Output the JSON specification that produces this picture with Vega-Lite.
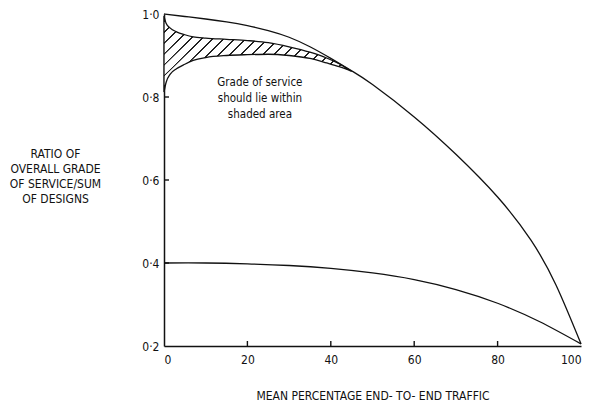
{
  "$schema": "https://vega.github.io/schema/vega-lite/v6.json",
  "width": 417,
  "height": 332,
  "autosize": {"type": "none"},
  "padding": {"left": 164, "top": 14, "right": 20, "bottom": 60},
  "background": "white",
  "config": {
    "view": {"stroke": null},
    "font": "Liberation Sans Narrow, DejaVu Sans Condensed, sans-serif",
    "axis": {
      "grid": false,
      "domainColor": "#111",
      "domainWidth": 1.5,
      "labelColor": "#111",
      "titleColor": "#111",
      "labelFont": "Liberation Sans Narrow, DejaVu Sans Condensed, sans-serif",
      "titleFont": "Liberation Sans Narrow, DejaVu Sans Condensed, sans-serif",
      "labelFontSize": 12,
      "titleFontSize": 12,
      "titleFontWeight": "normal"
    }
  },
  "datasets": {
    "outer": [
      {"x": 0, "y": 1.0}, {"x": 5, "y": 0.994}, {"x": 10, "y": 0.988}, {"x": 15, "y": 0.981},
      {"x": 20, "y": 0.972}, {"x": 25, "y": 0.96}, {"x": 30, "y": 0.944}, {"x": 35, "y": 0.921},
      {"x": 40, "y": 0.893}, {"x": 45, "y": 0.863}, {"x": 50, "y": 0.83}, {"x": 60, "y": 0.752},
      {"x": 70, "y": 0.662}, {"x": 80, "y": 0.559}, {"x": 88, "y": 0.455}, {"x": 94, "y": 0.347},
      {"x": 100, "y": 0.205}
    ],
    "lower": [
      {"x": 0, "y": 0.4}, {"x": 10, "y": 0.4}, {"x": 20, "y": 0.398}, {"x": 30, "y": 0.394},
      {"x": 40, "y": 0.387}, {"x": 50, "y": 0.376}, {"x": 60, "y": 0.36}, {"x": 70, "y": 0.336},
      {"x": 80, "y": 0.303}, {"x": 90, "y": 0.259}, {"x": 100, "y": 0.205}
    ],
    "shaded": [
      {"x": 0, "hi": 0.995, "lo": 0.812}, {"x": 0.5, "hi": 0.978, "lo": 0.835},
      {"x": 1.5, "hi": 0.966, "lo": 0.855}, {"x": 3, "hi": 0.957, "lo": 0.868},
      {"x": 5, "hi": 0.95, "lo": 0.879}, {"x": 7, "hi": 0.945, "lo": 0.888},
      {"x": 10, "hi": 0.942, "lo": 0.895}, {"x": 15, "hi": 0.939, "lo": 0.9},
      {"x": 20, "hi": 0.936, "lo": 0.902}, {"x": 25, "hi": 0.931, "lo": 0.903},
      {"x": 30, "hi": 0.921, "lo": 0.9}, {"x": 35, "hi": 0.908, "lo": 0.893},
      {"x": 39, "hi": 0.894, "lo": 0.882}, {"x": 42, "hi": 0.88, "lo": 0.873},
      {"x": 45, "hi": 0.862, "lo": 0.862}
    ],
    "note": [
      {"x": 23, "y": 0.834, "text": "Grade of service\nshould lie within\nshaded area"}
    ],
    "xticks": [{"x": 20}, {"x": 40}, {"x": 60}, {"x": 80}],
    "yticks": [{"y": 0.4}, {"y": 0.6}, {"y": 0.8}]
  },
  "layer": [
    {
      "data": {"name": "shaded"},
      "mark": {
        "type": "area",
        "interpolate": "monotone",
        "stroke": "#111",
        "strokeWidth": 1.3,
        "color": {
          "gradient": "linear",
          "x1": 0, "y1": 0, "x2": 1.2, "y2": 0.49,
          "stops": [
            {"offset": 0.0, "color": "white"},
            {"offset": 0.016, "color": "white"}, {"offset": 0.017, "color": "#222"}, {"offset": 0.023, "color": "#222"}, {"offset": 0.024, "color": "white"},
            {"offset": 0.058, "color": "white"}, {"offset": 0.059, "color": "#222"}, {"offset": 0.065, "color": "#222"}, {"offset": 0.066, "color": "white"},
            {"offset": 0.100, "color": "white"}, {"offset": 0.101, "color": "#222"}, {"offset": 0.107, "color": "#222"}, {"offset": 0.108, "color": "white"},
            {"offset": 0.142, "color": "white"}, {"offset": 0.143, "color": "#222"}, {"offset": 0.149, "color": "#222"}, {"offset": 0.150, "color": "white"},
            {"offset": 0.184, "color": "white"}, {"offset": 0.185, "color": "#222"}, {"offset": 0.191, "color": "#222"}, {"offset": 0.192, "color": "white"},
            {"offset": 0.226, "color": "white"}, {"offset": 0.227, "color": "#222"}, {"offset": 0.233, "color": "#222"}, {"offset": 0.234, "color": "white"},
            {"offset": 0.268, "color": "white"}, {"offset": 0.269, "color": "#222"}, {"offset": 0.275, "color": "#222"}, {"offset": 0.276, "color": "white"},
            {"offset": 0.310, "color": "white"}, {"offset": 0.311, "color": "#222"}, {"offset": 0.317, "color": "#222"}, {"offset": 0.318, "color": "white"},
            {"offset": 0.352, "color": "white"}, {"offset": 0.353, "color": "#222"}, {"offset": 0.359, "color": "#222"}, {"offset": 0.360, "color": "white"},
            {"offset": 0.394, "color": "white"}, {"offset": 0.395, "color": "#222"}, {"offset": 0.401, "color": "#222"}, {"offset": 0.402, "color": "white"},
            {"offset": 0.436, "color": "white"}, {"offset": 0.437, "color": "#222"}, {"offset": 0.443, "color": "#222"}, {"offset": 0.444, "color": "white"},
            {"offset": 0.478, "color": "white"}, {"offset": 0.479, "color": "#222"}, {"offset": 0.485, "color": "#222"}, {"offset": 0.486, "color": "white"},
            {"offset": 0.520, "color": "white"}, {"offset": 0.521, "color": "#222"}, {"offset": 0.527, "color": "#222"}, {"offset": 0.528, "color": "white"},
            {"offset": 0.562, "color": "white"}, {"offset": 0.563, "color": "#222"}, {"offset": 0.569, "color": "#222"}, {"offset": 0.570, "color": "white"},
            {"offset": 0.604, "color": "white"}, {"offset": 0.605, "color": "#222"}, {"offset": 0.611, "color": "#222"}, {"offset": 0.612, "color": "white"},
            {"offset": 0.646, "color": "white"}, {"offset": 0.647, "color": "#222"}, {"offset": 0.653, "color": "#222"}, {"offset": 0.654, "color": "white"},
            {"offset": 0.688, "color": "white"}, {"offset": 0.689, "color": "#222"}, {"offset": 0.695, "color": "#222"}, {"offset": 0.696, "color": "white"},
            {"offset": 0.730, "color": "white"}, {"offset": 0.731, "color": "#222"}, {"offset": 0.737, "color": "#222"}, {"offset": 0.738, "color": "white"},
            {"offset": 0.772, "color": "white"}, {"offset": 0.773, "color": "#222"}, {"offset": 0.779, "color": "#222"}, {"offset": 0.780, "color": "white"},
            {"offset": 0.814, "color": "white"}, {"offset": 0.815, "color": "#222"}, {"offset": 0.821, "color": "#222"}, {"offset": 0.822, "color": "white"},
            {"offset": 0.856, "color": "white"}, {"offset": 0.857, "color": "#222"}, {"offset": 0.863, "color": "#222"}, {"offset": 0.864, "color": "white"},
            {"offset": 0.898, "color": "white"}, {"offset": 0.899, "color": "#222"}, {"offset": 0.905, "color": "#222"}, {"offset": 0.906, "color": "white"},
            {"offset": 0.940, "color": "white"}, {"offset": 0.941, "color": "#222"}, {"offset": 0.947, "color": "#222"}, {"offset": 0.948, "color": "white"},
            {"offset": 0.982, "color": "white"}, {"offset": 0.983, "color": "#222"}, {"offset": 0.989, "color": "#222"}, {"offset": 0.990, "color": "white"},
            {"offset": 1.0, "color": "white"}
          ]
        }
      },
      "encoding": {
        "x": {
          "field": "x", "type": "quantitative",
          "scale": {"domain": [0, 100], "nice": false},
          "axis": {
            "values": [0, 20, 40, 60, 80, 100],
            "ticks": false,
            "labelPadding": 8,
            "title": "MEAN PERCENTAGE END- TO- END TRAFFIC",
            "titleY": 49,
            "titleBaseline": "middle"
          }
        },
        "y": {
          "field": "hi", "type": "quantitative",
          "scale": {"domain": [0.2, 1.0], "nice": false, "zero": false},
          "axis": {
            "values": [0.2, 0.4, 0.6, 0.8, 1.0],
            "labelExpr": "replace(format(datum.value, '.1f'), '.', '·')",
            "ticks": false,
            "labelPadding": 5,
            "title": ["RATIO OF", "OVERALL GRADE", "OF SERVICE/SUM", "OF DESIGNS"],
            "titleAngle": 0,
            "titleAlign": "center",
            "titleBaseline": "middle",
            "titleX": -109,
            "titleY": 139,
            "titleLineHeight": 15
          }
        },
        "y2": {"field": "lo"}
      }
    },
    {
      "data": {"name": "outer"},
      "mark": {"type": "line", "interpolate": "natural", "color": "#111", "strokeWidth": 1.3},
      "encoding": {
        "x": {"field": "x", "type": "quantitative"},
        "y": {"field": "y", "type": "quantitative"}
      }
    },
    {
      "data": {"name": "lower"},
      "mark": {"type": "line", "interpolate": "natural", "color": "#111", "strokeWidth": 1.3},
      "encoding": {
        "x": {"field": "x", "type": "quantitative"},
        "y": {"field": "y", "type": "quantitative"}
      }
    },
    {
      "data": {"name": "xticks"},
      "mark": {"type": "tick", "orient": "vertical", "size": 5, "thickness": 1.4, "yOffset": -2.5, "color": "#111", "opacity": 1},
      "encoding": {
        "x": {"field": "x", "type": "quantitative"},
        "y": {"datum": 0.2, "type": "quantitative"}
      }
    },
    {
      "data": {"name": "yticks"},
      "mark": {"type": "tick", "orient": "horizontal", "size": 5, "thickness": 1.4, "xOffset": 2.5, "color": "#111", "opacity": 1},
      "encoding": {
        "x": {"datum": 0, "type": "quantitative"},
        "y": {"field": "y", "type": "quantitative"}
      }
    },
    {
      "data": {"name": "note"},
      "mark": {
        "type": "text",
        "lineBreak": "\n",
        "align": "center",
        "baseline": "middle",
        "lineHeight": 16,
        "fontSize": 11.5,
        "color": "#111",
        "font": "Liberation Sans Narrow, DejaVu Sans Condensed, sans-serif"
      },
      "encoding": {
        "x": {"field": "x", "type": "quantitative"},
        "y": {"field": "y", "type": "quantitative"},
        "text": {"field": "text"}
      }
    }
  ]
}
